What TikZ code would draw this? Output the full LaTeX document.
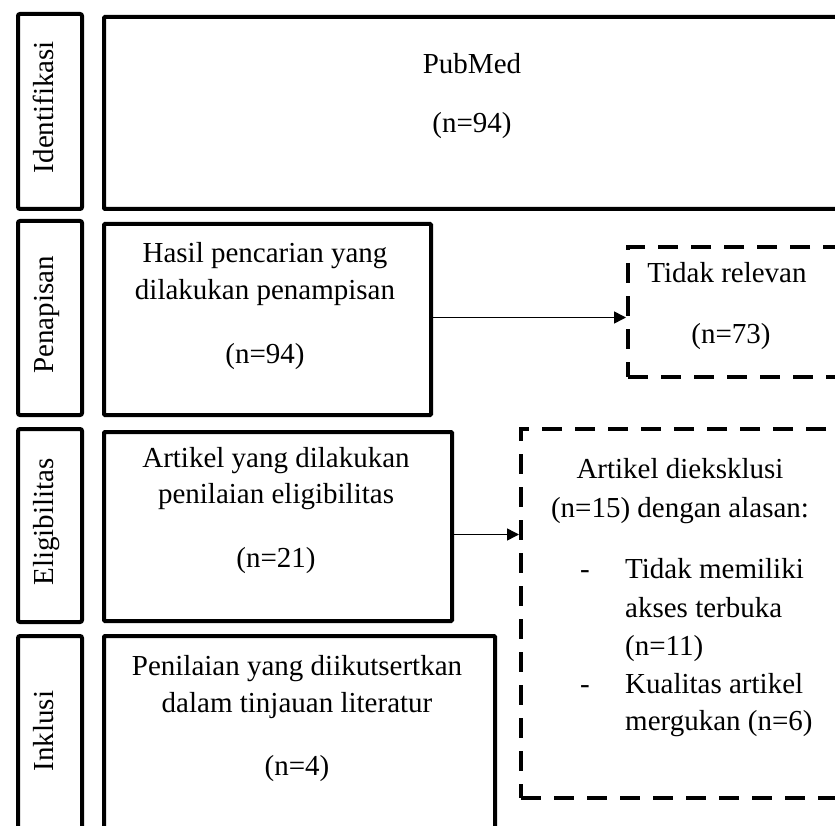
\documentclass[tikz,border=0pt]{standalone}
\usepackage{fontspec}
\setmainfont{Liberation Serif}
\usetikzlibrary{arrows.meta}
\begin{document}
\begin{tikzpicture}[x=1pt,y=-1pt,
  labbox/.style={draw, line width=4pt, rounded corners=2pt, anchor=north west, inner sep=0pt},
  solidbox/.style={draw, line width=4pt, rounded corners=1pt, anchor=north west, inner sep=0pt},
  dashbox/.style={draw, line width=4pt, dash pattern=on 20pt off 13pt, anchor=north west, inner sep=0pt},
  txt/.style={anchor=base, font=\fontsize{29}{37}\selectfont, inner sep=0pt},
  ltxt/.style={anchor=base west, font=\fontsize{29}{37}\selectfont, inner sep=0pt},
  vlab/.style={rotate=90, anchor=base, font=\fontsize{29}{37}\selectfont, inner sep=0pt},
  arr/.style={-{Triangle[length=12pt,width=12pt]}, line width=1.5pt}
]
\useasboundingbox (0,0) rectangle (835,826);
\clip (0,0) rectangle (835,826);

% stage label boxes
\node[labbox, minimum width=64pt, minimum height=195pt] (lid) at (16,12) {};
\node[labbox, minimum width=64pt, minimum height=194pt] (lpen) at (16,219) {};
\node[labbox, minimum width=64pt, minimum height=193pt] (lel) at (16,427) {};
\node[labbox, minimum width=64pt, minimum height=210pt] (lin) at (16,634) {};
\node[vlab] (tid) at (53,107) {Identifikasi};
\node[vlab] (tpen) at (53,315) {Penapisan};
\node[vlab] (tel) at (53,522) {Eligibilitas};
\node[vlab] (tin) at (53,731) {Inklusi};

% content boxes
\node[solidbox, minimum width=743pt, minimum height=192pt] (pub) at (102,15) {};
\node[solidbox, minimum width=327pt, minimum height=191pt] (hasil) at (102,222) {};
\node[solidbox, minimum width=348pt, minimum height=189pt] (artikel) at (102,430) {};
\node[solidbox, minimum width=391pt, minimum height=193pt] (penil) at (102,634) {};
\node[dashbox, minimum width=224pt, minimum height=130pt] (tidak) at (626,245) {};
\node[dashbox, minimum width=331pt, minimum height=369pt] (diek) at (519,427) {};

% texts
\node[txt] (p1) at (472,74) {PubMed};
\node[txt] (p2) at (472,133) {(n=94)};

\node[txt] (h1) at (265,263) {Hasil pencarian yang};
\node[txt] (h2) at (265,300) {dilakukan penampisan};
\node[txt] (h3) at (265,363) {(n=94)};

\node[txt] (r1) at (727,283) {Tidak relevan};
\node[txt] (r2) at (731,343) {(n=73)};

\node[txt] (a1) at (276,467) {Artikel yang dilakukan};
\node[txt] (a2) at (276,503) {penilaian eligibilitas};
\node[txt] (a3) at (276,567) {(n=21)};

\node[txt] (n1) at (297,675) {Penilaian yang diikutsertkan};
\node[txt] (n2) at (297,712) {dalam tinjauan literatur};
\node[txt] (n3) at (297,775) {(n=4)};

\node[txt] (e1) at (680,478) {Artikel dieksklusi};
\node[txt] (e2) at (680,517) {(n=15) dengan alasan:};
\node[txt] (d1) at (585,578) {-};
\node[ltxt] (e3) at (625,578) {Tidak memiliki};
\node[ltxt] (e4) at (625,617) {akses terbuka};
\node[ltxt] (e5) at (625,655) {(n=11)};
\node[txt] (d2) at (585,693) {-};
\node[ltxt] (e6) at (625,693) {Kualitas artikel};
\node[ltxt] (e7) at (625,730) {mergukan (n=6)};

% connectors
\coordinate (c1) at ([yshift=2pt]hasil.east);
\draw[arr] (c1) -- (c1 -| tidak.west);
\coordinate (c2) at ([yshift=-8pt]artikel.east);
\draw[arr] (c2) -- (c2 -| diek.west);
\end{tikzpicture}
\end{document}
